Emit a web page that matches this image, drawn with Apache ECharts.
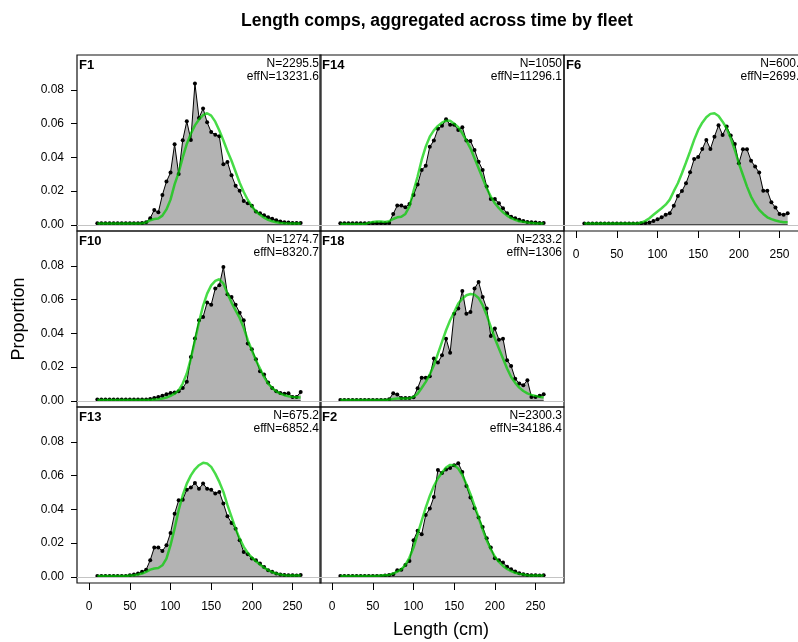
<!DOCTYPE html>
<html><head><meta charset="utf-8">
<script src="https://cdn.jsdelivr.net/npm/echarts@6/dist/echarts.min.js"></script>
<style>html,body{margin:0;padding:0;background:#fff}#c{width:798px;height:642px}</style>
</head><body><div id="c"></div>
<script>
const bins = [10,15,20,25,30,35,40,45,50,55,60,65,70,75,80,85,90,95,100,105,110,115,120,125,130,135,140,145,150,155,160,165,170,175,180,185,190,195,200,205,210,215,220,225,230,235,240,245,250,255,260];
const xTicks = [0,50,100,150,200,250];
const yTicks = [0,0.02,0.04,0.06,0.08];
const fleetNames = ['F1','F14','F6','F10','F18','F13','F2'];
const nLabels = ['N=2295.5','N=1050','N=600.4','N=1274.7','N=233.2','N=675.2','N=2300.3'];
const effNLabels = ['effN=13231.6','effN=11296.1','effN=2699.3','effN=8320.7','effN=1306','effN=6852.4','effN=34186.4'];

const obsF1 = [0.001,0.001,0.001,0.001,0.001,0.001,0.001,0.001,0.001,0.001,0.001,0.0012,0.0016,0.004,0.0089,0.0075,0.0178,0.0257,0.031,0.0478,0.0302,0.0502,0.0614,0.0504,0.0838,0.0634,0.069,0.0608,0.055,0.0535,0.0525,0.036,0.0373,0.0294,0.0232,0.0202,0.0142,0.0128,0.0113,0.0079,0.0069,0.0057,0.0045,0.0036,0.0028,0.002,0.0016,0.0014,0.0012,0.0012,0.0012];
const expF1 = [0.0008,0.0008,0.0008,0.0008,0.0008,0.0008,0.0008,0.0008,0.0008,0.0008,0.0008,0.001,0.0015,0.0028,0.0035,0.0038,0.0055,0.0092,0.015,0.024,0.031,0.040,0.048,0.054,0.059,0.0625,0.065,0.0662,0.0648,0.0612,0.056,0.050,0.0437,0.038,0.0315,0.025,0.0195,0.0148,0.011,0.008,0.006,0.0043,0.003,0.0022,0.0016,0.0012,0.001,0.0009,0.0008,0.0008,0.0008];

const obsF14 = [0.001,0.001,0.001,0.001,0.001,0.001,0.001,0.001,0.001,0.001,0.001,0.001,0.0012,0.0065,0.0115,0.0115,0.0105,0.0124,0.0178,0.024,0.0326,0.035,0.0464,0.050,0.057,0.0587,0.0626,0.0593,0.0593,0.0563,0.0579,0.050,0.0498,0.0444,0.0375,0.0326,0.0227,0.0154,0.0154,0.0128,0.0099,0.0069,0.0049,0.004,0.003,0.0024,0.0018,0.0016,0.0014,0.0012,0.0012];
const expF14 = [0.0006,0.0006,0.0006,0.0006,0.0006,0.0006,0.0006,0.0012,0.0018,0.002,0.002,0.0018,0.0022,0.0035,0.0045,0.0048,0.0065,0.011,0.020,0.0287,0.0385,0.0464,0.0523,0.056,0.0587,0.0606,0.0618,0.0618,0.060,0.0579,0.0543,0.050,0.0454,0.0395,0.0336,0.0277,0.0217,0.0168,0.0128,0.0099,0.0075,0.0055,0.004,0.003,0.0022,0.0018,0.0014,0.0012,0.001,0.0009,0.0008];

const obsF6 = [0.0008,0.0008,0.0008,0.0008,0.0008,0.0008,0.0008,0.0008,0.0008,0.0008,0.0008,0.0008,0.0008,0.0008,0.001,0.0012,0.0014,0.0024,0.0034,0.0045,0.006,0.0069,0.0113,0.0172,0.0201,0.0247,0.0312,0.039,0.0403,0.045,0.0504,0.045,0.0523,0.059,0.0533,0.0583,0.053,0.048,0.0365,0.0448,0.0448,0.038,0.0346,0.031,0.0202,0.0202,0.0134,0.0103,0.0065,0.006,0.0069];
const expF6 = [0.0008,0.0008,0.0008,0.0008,0.0008,0.0008,0.0008,0.0008,0.0008,0.0008,0.0008,0.0008,0.0008,0.0008,0.0014,0.0024,0.004,0.006,0.008,0.0099,0.012,0.015,0.020,0.0247,0.0306,0.037,0.0435,0.0504,0.0563,0.0606,0.0638,0.0658,0.0662,0.0646,0.0612,0.0573,0.0514,0.0444,0.0365,0.0296,0.0227,0.0168,0.0124,0.0089,0.0065,0.0045,0.0034,0.0026,0.002,0.0016,0.0016];

const obsF10 = [0.0008,0.0008,0.0008,0.0008,0.0008,0.0008,0.0008,0.0008,0.0008,0.0008,0.0008,0.0008,0.0008,0.0012,0.0018,0.0024,0.003,0.004,0.0047,0.005,0.0057,0.0077,0.0113,0.026,0.037,0.0478,0.0498,0.0583,0.057,0.0666,0.0685,0.0794,0.0632,0.0616,0.057,0.0523,0.0478,0.034,0.0306,0.0247,0.0176,0.0156,0.0109,0.0077,0.0057,0.0047,0.0043,0.0045,0.0024,0.0024,0.0053];
const expF10 = [0.0006,0.0006,0.0006,0.0006,0.0006,0.0006,0.0006,0.0006,0.0006,0.0006,0.0006,0.0006,0.0006,0.0006,0.0008,0.001,0.0014,0.002,0.003,0.0043,0.0063,0.0103,0.0162,0.0251,0.036,0.0468,0.0563,0.0636,0.0685,0.0711,0.0721,0.0695,0.0636,0.0583,0.0537,0.0492,0.0433,0.036,0.030,0.0241,0.0192,0.0142,0.0103,0.0077,0.0057,0.0043,0.0034,0.0028,0.0024,0.0022,0.002];

const obsF18 = [0.0006,0.0006,0.0006,0.0006,0.0006,0.0006,0.0006,0.0006,0.0006,0.0006,0.0006,0.0006,0.001,0.0045,0.0038,0.0018,0.0018,0.0018,0.0022,0.0075,0.0138,0.0138,0.0146,0.0251,0.0227,0.027,0.0369,0.0286,0.0517,0.0547,0.0652,0.0517,0.0527,0.0666,0.0705,0.0616,0.0547,0.0385,0.0429,0.0363,0.0369,0.0241,0.0207,0.0132,0.0103,0.0093,0.0122,0.0024,0.0024,0.003,0.004];
const expF18 = [0.0006,0.0006,0.0006,0.0006,0.0006,0.0006,0.0006,0.0006,0.0006,0.0006,0.0006,0.0006,0.0008,0.0012,0.0014,0.0014,0.0014,0.0016,0.0024,0.0043,0.0077,0.0113,0.0156,0.0211,0.028,0.035,0.0419,0.0478,0.0527,0.0577,0.0606,0.0626,0.0634,0.063,0.061,0.0567,0.0508,0.0439,0.037,0.031,0.0251,0.0192,0.0142,0.0107,0.0079,0.0059,0.0045,0.0036,0.003,0.0024,0.002];

const obsF13 = [0.0005,0.0005,0.0005,0.0005,0.0005,0.0005,0.0005,0.0005,0.001,0.0014,0.002,0.003,0.0043,0.0099,0.0174,0.0174,0.0154,0.0188,0.0261,0.0375,0.0454,0.0458,0.0517,0.053,0.0557,0.0523,0.0553,0.0523,0.0517,0.0494,0.0504,0.0435,0.036,0.032,0.0286,0.0217,0.0148,0.0134,0.0109,0.0099,0.0079,0.0059,0.004,0.003,0.002,0.0014,0.0012,0.001,0.001,0.0008,0.0012];
const expF13 = [0.0005,0.0005,0.0005,0.0005,0.0005,0.0005,0.0005,0.0005,0.0008,0.001,0.0014,0.002,0.003,0.0043,0.005,0.0053,0.0069,0.0109,0.0188,0.0286,0.0395,0.0484,0.0553,0.0602,0.0638,0.0662,0.0676,0.0672,0.0652,0.0612,0.0563,0.0504,0.0425,0.0356,0.0286,0.0227,0.0178,0.0142,0.0115,0.0093,0.0073,0.0055,0.004,0.0028,0.002,0.0014,0.001,0.0008,0.0008,0.0008,0.0008];

const obsF2 = [0.0005,0.0005,0.0005,0.0005,0.0005,0.0005,0.0005,0.0005,0.0005,0.0005,0.0005,0.0008,0.0012,0.0016,0.004,0.0043,0.007,0.0095,0.0217,0.0273,0.0253,0.0367,0.0405,0.0474,0.0634,0.0616,0.0636,0.0646,0.0662,0.0674,0.0622,0.0539,0.047,0.0407,0.0352,0.0296,0.0229,0.0174,0.0111,0.0099,0.0085,0.0061,0.0045,0.0032,0.0022,0.0016,0.0012,0.001,0.001,0.0008,0.001];
const expF2 = [0.0006,0.0006,0.0006,0.0006,0.0006,0.0006,0.0006,0.0006,0.0006,0.0006,0.0008,0.001,0.0012,0.002,0.0032,0.0045,0.0071,0.0115,0.0174,0.0253,0.0332,0.0411,0.048,0.0539,0.0585,0.0618,0.0648,0.0664,0.0662,0.0642,0.0604,0.0549,0.049,0.0421,0.0352,0.0282,0.0217,0.0164,0.012,0.0089,0.0065,0.0047,0.0034,0.0024,0.0018,0.0014,0.001,0.0009,0.0008,0.0008,0.0008];

const obsAll = [obsF1, obsF14, obsF6, obsF10, obsF18, obsF13, obsF2];
const expAll = [expF1, expF14, expF6, expF10, expF18, expF13, expF2];

// layout (pixels)
const FONT = '"Liberation Sans", Arial, sans-serif';
const colLeft = [77, 320, 564];
const rowTop = [55, 231, 407];
const PW = 244, PH = 176;
const cells = [[0,0],[1,0],[2,0],[0,1],[1,1],[0,2],[1,2]];
const showXLab = [false,false,true,false,false,true,true];

const grids = [], xAxes = [], yAxes = [], series = [], graphics = [];
cells.forEach((c, i) => {
  const left = colLeft[c[0]], top = rowTop[c[1]];
  grids.push({left: left, top: top, width: PW, height: PH, show: true, containLabel: false,
    outerBoundsMode: 'none',
    borderColor: '#111', borderWidth: 1.2, backgroundColor: 'transparent'});
  const sx = showXLab[i], sy = c[0] === 0;
  xAxes.push({gridIndex: i, type: 'value', min: -15, max: 285, position: 'bottom',
    axisLine: {show: false, onZero: false}, splitLine: {show: false},
    axisTick: {show: sx, length: 7, customValues: xTicks, lineStyle: {color: '#000', width: 1}},
    axisLabel: {show: sx, customValues: xTicks, margin: 18, fontSize: 12, color: '#000', fontFamily: FONT}});
  yAxes.push({gridIndex: i, type: 'value', min: -0.0036, max: 0.1007, position: 'left',
    axisLine: {show: false, onZero: false}, splitLine: {show: false},
    axisTick: {show: sy, length: 6, customValues: yTicks, lineStyle: {color: '#000', width: 1}},
    axisLabel: {show: sy, customValues: yTicks, margin: 13, fontSize: 12, color: '#000', fontFamily: FONT,
      formatter: v => Number(v).toFixed(2)}});
  // zero reference line
  series.push({type: 'line', xAxisIndex: i, yAxisIndex: i, data: [], z: 1, silent: true,
    markLine: {silent: true, symbol: 'none', animation: false, label: {show: false},
      lineStyle: {color: '#c4c4c4', width: 1, type: 'solid'}, data: [{yAxis: 0}]}});
  // observed polygon + line + points
  series.push({type: 'line', xAxisIndex: i, yAxisIndex: i, z: 2,
    data: bins.map((b, k) => [b, obsAll[i][k]]),
    symbol: 'circle', symbolSize: 4, showAllSymbol: true,
    lineStyle: {color: '#000', width: 1}, itemStyle: {color: '#000'},
    areaStyle: {color: '#b3b3b3', opacity: 1, origin: 'auto'}});
  // polygon bottom border
  series.push({type: 'line', xAxisIndex: i, yAxisIndex: i, z: 3, symbol: 'none',
    data: [[bins[0], 0], [bins[bins.length - 1], 0]],
    lineStyle: {color: '#000', width: 1}});
  // expected
  series.push({type: 'line', xAxisIndex: i, yAxisIndex: i, z: 4, symbol: 'none',
    data: bins.map((b, k) => [b, expAll[i][k]]),
    lineStyle: {color: 'rgba(0,205,0,0.72)', width: 2.5}});
  graphics.push({type: 'text', x: left + 2, y: top + 3.5, z: 10,
    style: {text: fleetNames[i], font: 'bold 13px ' + FONT, fill: '#000', textAlign: 'left', textVerticalAlign: 'top'}});
  graphics.push({type: 'text', x: left + PW - 2, y: top + 2.5, z: 10,
    style: {text: nLabels[i], font: '12px ' + FONT, fill: '#000', textAlign: 'right', textVerticalAlign: 'top'}});
  graphics.push({type: 'text', x: left + PW - 2, y: top + 15.5, z: 10,
    style: {text: effNLabels[i], font: '12px ' + FONT, fill: '#000', textAlign: 'right', textVerticalAlign: 'top'}});
});

graphics.push({type: 'text', x: 437, y: 21, style: {text: 'Length comps, aggregated across time by fleet',
  font: 'bold 17.5px ' + FONT, fill: '#000', textAlign: 'center', textVerticalAlign: 'middle'}});
graphics.push({type: 'text', x: 441, y: 630, style: {text: 'Length (cm)',
  font: '18px ' + FONT, fill: '#000', textAlign: 'center', textVerticalAlign: 'middle'}});
graphics.push({type: 'text', x: 19, y: 319, rotation: Math.PI / 2, style: {text: 'Proportion',
  font: '18px ' + FONT, fill: '#000', textAlign: 'center', textVerticalAlign: 'middle'}});

const chart = echarts.init(document.getElementById('c'), null, {renderer: 'canvas'});
chart.setOption({animation: false, grid: grids, xAxis: xAxes, yAxis: yAxes, series: series, graphic: graphics});
</script></body></html>
